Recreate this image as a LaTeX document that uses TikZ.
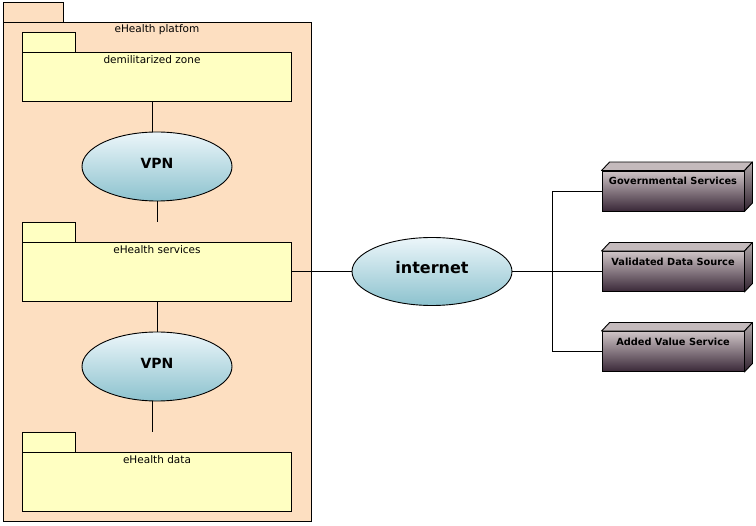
\documentclass[tikz,border=0pt]{standalone}
\usepackage{fontspec}
\setmainfont{DejaVu Sans}
\usetikzlibrary{shapes.geometric}
\definecolor{peach}{RGB}{253,223,193}
\definecolor{pkgyel}{RGB}{255,255,194}
\definecolor{elltop}{RGB}{236,246,250}
\definecolor{ellbot}{RGB}{140,194,206}
\definecolor{boxtop}{RGB}{206,196,198}
\definecolor{boxbot}{RGB}{58,40,56}
\definecolor{boxlid}{RGB}{196,186,188}
\tikzset{
  ln/.style={line width=0.9pt, black},
  pkgbody/.style={draw, ln, fill=pkgyel, inner sep=0pt, rectangle},
  pkglabel/.style={inner sep=0pt, font=\fontsize{10.5}{12}\selectfont},
  cloud/.style={ellipse, draw, ln, inner sep=0pt, top color=elltop, bottom color=ellbot},
  cloudlabel/.style={inner sep=0pt, font=\bfseries\fontsize{14}{16}\selectfont},
  devface/.style={rectangle, draw, ln, inner sep=0pt, minimum width=142pt, minimum height=40pt, top color=boxtop, bottom color=boxbot},
  devlabel/.style={inner sep=0pt, font=\bfseries\fontsize{9.8}{11}\selectfont},
}
\begin{document}
\begin{tikzpicture}[x=1pt,y=-1pt]
\useasboundingbox (0,0) rectangle (756,526);
\fill[white] (0,0) rectangle (756,526);

% outer package
\node[draw, ln, fill=peach, rectangle, inner sep=0pt, minimum width=60pt, minimum height=20pt] (outerTab) at (33,12) {};
\node[draw, ln, fill=peach, rectangle, inner sep=0pt, minimum width=308pt, minimum height=499pt] (outer) at (157,271.5) {};
\node[pkglabel] (outerL) at (157,30) {eHealth platfom};

% dmz package
\node[pkgbody, minimum width=53pt, minimum height=20pt] (dmzTab) at (48.5,42) {};
\node[pkgbody, minimum width=269pt, minimum height=49pt] (dmz) at (156.5,76.5) {};
\node[pkglabel] (dmzL) at (152,60) {demilitarized zone};

% services package
\node[pkgbody, minimum width=53pt, minimum height=20pt] (svcTab) at (48.5,232) {};
\node[pkgbody, minimum width=269pt, minimum height=59pt] (svc) at (156.5,271.5) {};
\node[pkglabel] (svcL) at (157,250) {eHealth services};

% data package
\node[pkgbody, minimum width=53pt, minimum height=20pt] (dataTab) at (48.5,442) {};
\node[pkgbody, minimum width=269pt, minimum height=59pt] (data) at (156.5,481.5) {};
\node[pkglabel] (dataL) at (157,460) {eHealth data};

% VPN ellipses
\node[cloud, minimum width=150pt, minimum height=69pt] (vpn1) at (157,166.5) {};
\node[cloudlabel] (vpn1L) at (157,163) {VPN};
\node[cloud, minimum width=150pt, minimum height=69pt] (vpn2) at (157,366.5) {};
\node[cloudlabel] (vpn2L) at (157,363) {VPN};

% internet
\node[cloud, minimum width=160pt, minimum height=68pt] (inet) at (432,271.5) {};
\node[cloudlabel, font=\bfseries\fontsize{16}{18}\selectfont] (inetL) at (432,268) {internet};

% vertical connectors
\draw[ln] ([xshift=-4.5pt]dmz.south) -- ([xshift=-4.5pt]dmz.south |- vpn1.north);
\draw[ln] (vpn1.south) -- (vpn1.south |- svcTab.north);
\draw[ln] ([xshift=0.5pt]svc.south) -- ([xshift=0.5pt]svc.south |- vpn2.north);
\draw[ln] ([xshift=-5pt]vpn2.south) -- ([xshift=-5pt]vpn2.south |- dataTab.north);

% devices
\foreach \nm/\yy/\txt in {gov/191/Governmental Services, val/271.5/Validated Data Source, add/351.5/Added Value Service}{
  \node[devface] (\nm) at (673,\yy) {};
  \fill[boxlid, draw=black, line width=0.9pt, line join=round]
     (\nm.north west) -- ++(8,-8.5) -- ([shift={(8,-8.5)}]\nm.north east) -- (\nm.north east) -- cycle;
  \shade[top color=boxtop!85!black, bottom color=boxbot!85!black, draw=black, line width=0.9pt, line join=round]
     (\nm.north east) -- ++(8,-8.5) -- ([shift={(8,-8.5)}]\nm.south east) -- (\nm.south east) -- cycle;
  \node[devlabel] (\nm L) at ([yshift=-10.5pt]\nm.north) {\txt};
}

% internet connectors
\coordinate (busx) at (552,0);
\draw[ln] (svc.east) -- (inet.west);
\draw[ln] (inet.east) -- (val.west);
\draw[ln] (gov.west) -- (gov.west -| busx) -- (add.west -| busx) -- (add.west);
\end{tikzpicture}
\end{document}
